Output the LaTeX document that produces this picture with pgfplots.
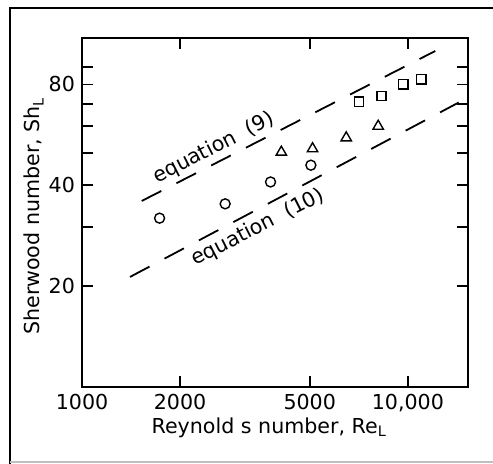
\documentclass[border=0pt]{standalone}
\usepackage{fontspec}
\setmainfont{DejaVu Sans}
\usepackage{pgfplots}
\pgfplotsset{compat=1.18}
\begin{document}
\begin{tikzpicture}[x=1pt,y=1pt]
\useasboundingbox (-41,-38.5) rectangle (205.5,193.5);
\draw[line width=1pt] (-36,-38.5) -- (-36,189.5) -- (205.5,189.5);
\draw[gray!50, line width=0.6pt] (-36,-37.5) -- (205.5,-37.5);
\begin{axis}[
  at={(0,0)}, anchor=south west, scale only axis,
  width=193pt, height=174.5pt,
  xmode=log, ymode=log,
  xmin=1000, xmax=15300, ymin=10, ymax=110,
  xtick={1000,2000,5000,10000}, xticklabels={1000,2000,5000,{10,000}},
  ytick={20,40,80}, yticklabels={20,40,80},
  minor ytick={30,50,60,70,90}, minor xtick={},
  tick align=inside, major tick length=5.5pt, minor tick length=5.5pt,
  axis line style={line width=0.9pt},
  every tick/.style={line width=0.8pt, black},
  font=\fontsize{10.3}{12}\selectfont,
  xlabel={Reynold s number, Re\textsubscript{L}},
  ylabel={Sherwood number, Sh\textsubscript{L}},
  xlabel style={at={(axis description cs:0.485,-0.132)}, anchor=base},
  ylabel style={at={(axis description cs:-0.109,0.49)}, anchor=base},
]
\addplot[only marks, mark=o, mark size=2.5pt, black, line width=0.7pt] coordinates {
  (1730,31.9) (2750,35.2) (3790,40.9) (5040,45.9)};
\addplot[only marks, mark=triangle, mark size=3pt, black, line width=0.7pt] coordinates {
  (4090,50.2) (5100,51.4) (6470,55.4) (8110,60.0)};
\addplot[only marks, mark=square, mark size=2.3pt, black, line width=0.7pt] coordinates {
  (7080,71.0) (8300,73.8) (9680,80) (11000,82.8)};
\addplot[black, line width=0.9pt, dash pattern=on 11pt off 8.5pt] coordinates {
  (1525,35.9) (12140,100.6)};
\addplot[black, line width=0.9pt, dash pattern=on 11pt off 8.5pt] coordinates {
  (1404,21.3) (14320,70.6)};
\node[rotate=27, font=\fontsize{10.3}{12}\selectfont] at (axis cs:2540,51.6) {equation\ \ (9)};
\node[rotate=27, font=\fontsize{10.3}{12}\selectfont] at (axis cs:3470,29.9) {equation\ \ (10)};
\end{axis}
\end{tikzpicture}
\end{document}
